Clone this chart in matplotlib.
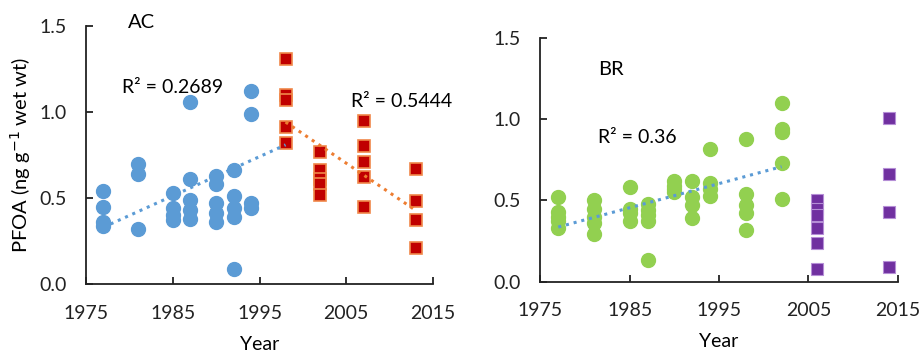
import matplotlib
matplotlib.use("Agg")
import matplotlib.pyplot as plt
import numpy as np

plt.rcParams["font.family"] = ["Lato", "DejaVu Sans"]

# AC panel
ac_blue_years = [1977]*4 + [1981]*3 + [1985]*4 + [1987]*5 + [1990]*5 + [1992]*5 + [1994]*4
ac_blue_vals = [0.54, 0.45, 0.36, 0.34,
                0.70, 0.64, 0.32,
                0.53, 0.44, 0.40, 0.37,
                1.06, 0.61, 0.49, 0.43, 0.38,
                0.63, 0.58, 0.47, 0.41, 0.36,
                0.66, 0.51, 0.44, 0.39, 0.09,
                1.12, 0.99, 0.47, 0.44]
ac_red_years = [1998]*5 + [2002]*5 + [2007]*5 + [2013]*4
ac_red_vals = [1.31, 1.10, 1.07, 0.91, 0.82,
               0.77, 0.66, 0.61, 0.58, 0.52,
               0.95, 0.80, 0.71, 0.62, 0.45,
               0.67, 0.48, 0.37, 0.21]

# BR panel
br_green_years = [1977]*5 + [1981]*5 + [1985]*4 + [1987]*5 + [1990]*4 + [1992]*4 + [1994]*4 + [1998]*5 + [2002]*5
br_green_vals = [0.52, 0.43, 0.40, 0.37, 0.33,
                 0.50, 0.45, 0.40, 0.36, 0.29,
                 0.58, 0.45, 0.42, 0.37,
                 0.48, 0.44, 0.41, 0.37, 0.13,
                 0.62, 0.59, 0.57, 0.55,
                 0.62, 0.52, 0.47, 0.39,
                 0.82, 0.61, 0.57, 0.53,
                 0.88, 0.54, 0.47, 0.42, 0.32,
                 1.10, 0.94, 0.92, 0.73, 0.51]
br_purple_years = [2006]*6 + [2014]*4
br_purple_vals = [0.50, 0.45, 0.41, 0.33, 0.24, 0.08,
                  1.01, 0.66, 0.43, 0.09]

ac_r2 = ["R² = 0.2689", "R² = 0.5444"]
br_r2 = "R² = 0.36"

blue = "#5B9BD5"
orange = "#ED7D31"
red = "#C00000"
green = "#92D050"
purple = "#7030A0"

fig = plt.figure(figsize=(9.2, 3.53), dpi=100)
ax1 = fig.add_axes([0.0935, 0.1955, 0.3772, 0.7309])
ax2 = fig.add_axes([0.5874, 0.2025, 0.3884, 0.6893])


def trend(ax, xs, ys, x0, x1, color):
    p = np.polyfit(xs, ys, 1)
    xx = np.array([x0, x1])
    ax.plot(xx, np.polyval(p, xx), ls=(0, (1, 1.6)), lw=2.2, color=color, zorder=3)


# AC: the first trend covers the early samples up to 1998
early_years = ac_blue_years + [y for y in ac_red_years if y == 1998]
early_vals = ac_blue_vals + [v for y, v in zip(ac_red_years, ac_red_vals) if y == 1998]

ax1.plot(ac_blue_years, ac_blue_vals, "o", ms=10, color=blue, mec=blue, zorder=2)
ax1.plot(ac_red_years, ac_red_vals, "s", ms=8.5, color=red, mec="#F0884A", mew=1.2, zorder=2)
trend(ax1, early_years, early_vals, 1977, 1998, blue)
trend(ax1, ac_red_years, ac_red_vals, 1998, 2013, orange)
ax1.text(1979.8, 1.52, "AC", fontsize=14.5, ha="left", va="center")
ax1.text(1979.2, 1.14, ac_r2[0], fontsize=14, ha="left", va="center")
ax1.text(2005.6, 1.06, ac_r2[1], fontsize=14, ha="left", va="center")
ax1.set_ylabel("PFOA (ng g$^{-1}$ wet wt)", fontsize=14.5, va="center")
ax1.yaxis.set_label_coords(-0.19, 0.5)

# BR
ax2.plot(br_green_years, br_green_vals, "o", ms=10, color=green, mec=green, zorder=2)
ax2.plot(br_purple_years, br_purple_vals, "s", ms=8.5, color=purple, mec="#B58ED6", mew=0.8, zorder=2)
trend(ax2, br_green_years, br_green_vals, 1977, 2002, blue)
ax2.text(1981.5, 1.31, "BR", fontsize=14.5, ha="left", va="center")
ax2.text(1981.5, 0.89, br_r2, fontsize=14, ha="left", va="center")

for ax in (ax1, ax2):
    ax.set_xlim(1975, 2015)
    ax.set_ylim(0, 1.5)
    ax.set_xticks([1975, 1985, 1995, 2005, 2015])
    ax.set_yticks([0.0, 0.5, 1.0, 1.5])
    ax.set_yticklabels(["0.0", "0.5", "1.0", "1.5"])
    for s in ("top", "right"):
        ax.spines[s].set_visible(False)
    for s in ("left", "bottom"):
        ax.spines[s].set_linewidth(1.3)
        ax.spines[s].set_color("#222222")
    ax.tick_params(direction="in", length=5, width=1.3, labelsize=14, colors="#222222")
    ax.tick_params(axis="x", pad=15)
    ax.tick_params(axis="y", pad=14)
    ax.set_xlabel("Year", fontsize=14, labelpad=10)
    for ln in ax.lines:
        ln.set_clip_on(False)

plt.savefig("out.png", dpi=100)
